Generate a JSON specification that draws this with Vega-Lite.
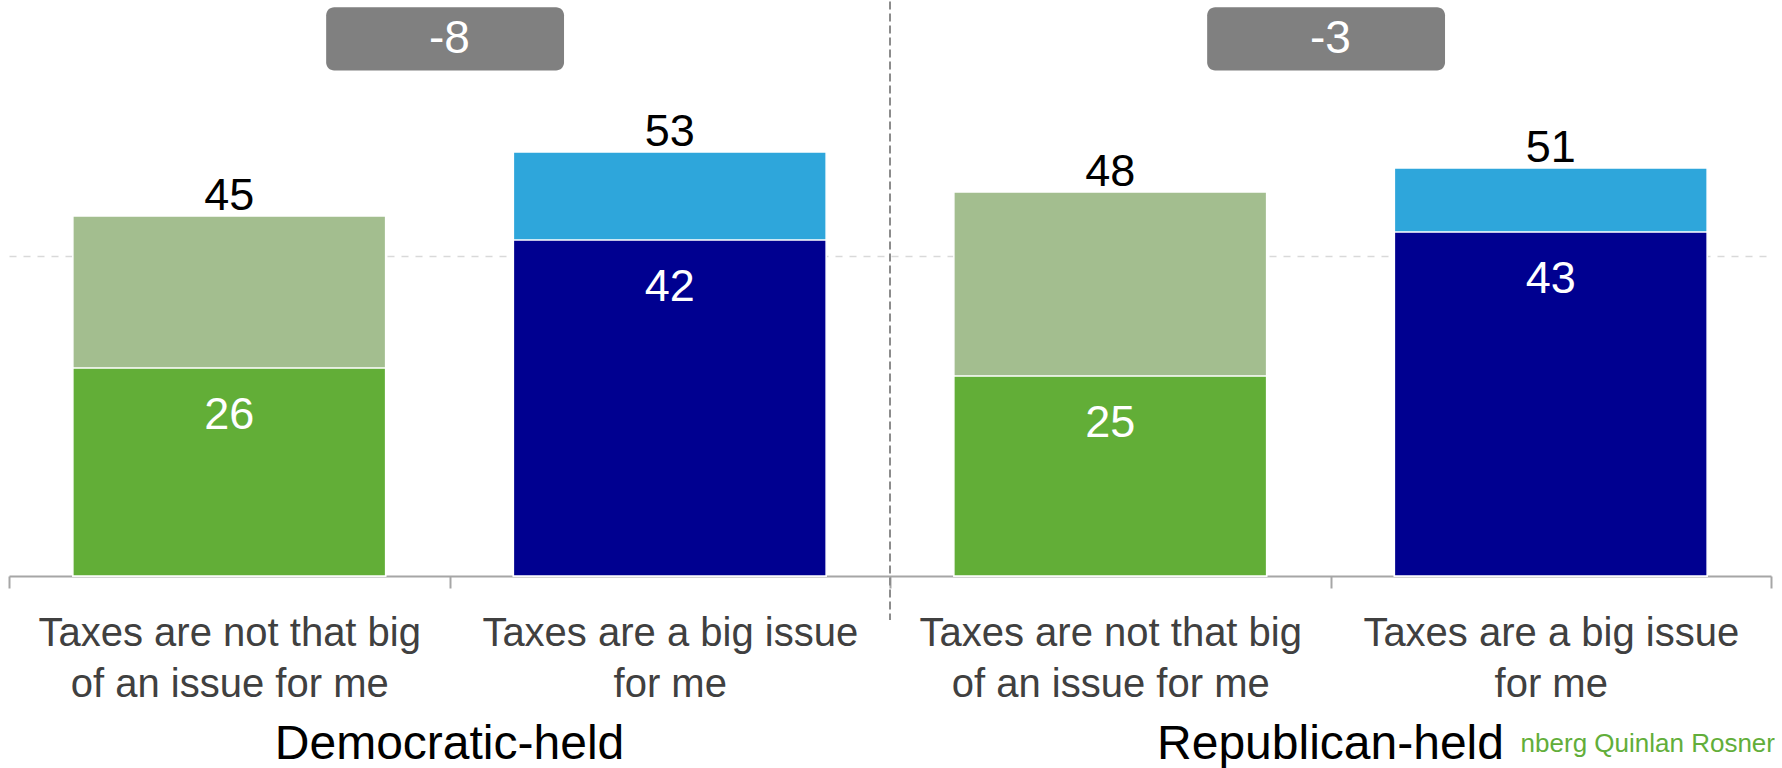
{
  "$schema": "https://vega.github.io/schema/vega-lite/v6.json",
  "width": 1762,
  "height": 576,
  "padding": {"left": 8, "top": 0, "right": 0, "bottom": 0},
  "background": "white",
  "datasets": {
    "bars": [
      {"key": "D|Taxes are not that big|of an issue for me", "cat": "not", "total": 45, "strong": 26},
      {"key": "D|Taxes are a big issue|for me", "cat": "big", "total": 53, "strong": 42},
      {"key": "R|Taxes are not that big|of an issue for me", "cat": "not", "total": 48, "strong": 25},
      {"key": "R|Taxes are a big issue|for me", "cat": "big", "total": 51, "strong": 43}
    ],
    "groups": [
      {"grp": "Democratic-held", "key": "D|Taxes are not that big|of an issue for me", "key2": "D|Taxes are a big issue|for me", "diff": "-8"},
      {"grp": "Republican-held", "key": "R|Taxes are not that big|of an issue for me", "key2": "R|Taxes are a big issue|for me", "diff": "-3"}
    ],
    "divider": [
      {"key": "D|Taxes are a big issue|for me"}
    ],
    "source": [
      {"key": "R|Taxes are a big issue|for me", "text": "nberg Quinlan Rosner"}
    ]
  },
  "config": {
    "view": {"stroke": null},
    "font": "Liberation Sans",
    "axisX": {
      "domainColor": "#A6A6A6",
      "domainWidth": 2,
      "tickColor": "#A6A6A6",
      "tickWidth": 2,
      "tickSize": 12,
      "tickBand": "extent",
      "labelFontSize": 40,
      "labelColor": "#404040",
      "labelFont": "Liberation Sans",
      "labelPadding": 25,
      "labelLineHeight": 51,
      "labelAngle": 0,
      "labelLimit": 0,
      "labelOverlap": false,
      "grid": false,
      "title": null
    }
  },
  "layer": [
    {
      "data": {"name": "bars"},
      "mark": {"type": "bar", "width": {"band": 0.71}, "stroke": "white", "strokeWidth": 1.5},
      "encoding": {
        "x": {
          "field": "key", "type": "nominal", "title": null, "sort": null,
          "scale": {"paddingInner": 0, "paddingOuter": 0},
          "axis": {"labelExpr": "slice(split(datum.value, '|'), 1)"}
        },
        "y": {
          "field": "total", "type": "quantitative", "title": null,
          "scale": {"domain": [0, 72], "nice": false},
          "axis": {"values": [40], "labels": false, "ticks": false, "domain": false, "grid": true, "gridDash": [7, 7], "gridColor": "#D9D9D9", "gridWidth": 1.5, "title": null}
        },
        "color": {"condition": {"test": "datum.cat == 'not'", "value": "#A3BE8F"}, "value": "#2EA6DB"}
      }
    },
    {
      "data": {"name": "bars"},
      "mark": {"type": "bar", "width": {"band": 0.71}, "stroke": "white", "strokeWidth": 1.5},
      "encoding": {
        "x": {"field": "key", "type": "nominal", "title": null, "sort": null},
        "y": {"field": "strong", "type": "quantitative", "title": null},
        "color": {"condition": {"test": "datum.cat == 'not'", "value": "#62AE37"}, "value": "#000090"}
      }
    },
    {
      "data": {"name": "bars"},
      "mark": {"type": "text", "baseline": "alphabetic", "dy": -6, "fontSize": 45, "color": "black", "font": "Liberation Sans"},
      "encoding": {
        "x": {"field": "key", "type": "nominal", "title": null, "sort": null},
        "y": {"field": "total", "type": "quantitative", "title": null},
        "text": {"field": "total", "type": "quantitative"}
      }
    },
    {
      "data": {"name": "bars"},
      "mark": {"type": "text", "baseline": "middle", "dy": 47, "fontSize": 45, "color": "white", "font": "Liberation Sans"},
      "encoding": {
        "x": {"field": "key", "type": "nominal", "title": null, "sort": null},
        "y": {"field": "strong", "type": "quantitative", "title": null},
        "text": {"field": "strong", "type": "quantitative"}
      }
    },
    {
      "data": {"name": "groups"},
      "mark": {"type": "rect", "color": "#808080", "cornerRadius": 8},
      "encoding": {
        "x": {"field": "key", "type": "nominal", "title": null, "sort": null, "bandPosition": 0.72},
        "x2": {"field": "key2", "bandPosition": 0.26},
        "y": {"datum": 63.2},
        "y2": {"datum": 71.1}
      }
    },
    {
      "data": {"name": "groups"},
      "mark": {"type": "text", "baseline": "middle", "fontSize": 46, "color": "white", "font": "Liberation Sans"},
      "encoding": {
        "x": {"field": "key", "type": "nominal", "title": null, "sort": null, "bandPosition": 1},
        "y": {"datum": 67.1},
        "text": {"field": "diff"}
      }
    },
    {
      "data": {"name": "divider"},
      "mark": {"type": "rule", "color": "#8C8C8C", "strokeWidth": 2, "strokeDash": [8, 4]},
      "encoding": {
        "x": {"field": "key", "type": "nominal", "title": null, "sort": null, "bandPosition": 1},
        "y": {"datum": 71.8},
        "y2": {"datum": -5.5}
      }
    },
    {
      "data": {"name": "groups"},
      "mark": {"type": "text", "baseline": "alphabetic", "fontSize": 48, "color": "black", "font": "Liberation Sans"},
      "encoding": {
        "x": {"field": "key", "type": "nominal", "title": null, "sort": null, "bandPosition": 1},
        "y": {"datum": -22.9},
        "text": {"field": "grp"}
      }
    },
    {
      "data": {"name": "source"},
      "mark": {"type": "text", "baseline": "alphabetic", "align": "right", "dx": 4, "fontSize": 26, "color": "#62AE3A", "font": "Liberation Sans"},
      "encoding": {
        "x": {"field": "key", "type": "nominal", "title": null, "sort": null, "bandPosition": 1},
        "y": {"datum": -22},
        "text": {"field": "text"}
      }
    }
  ]
}
